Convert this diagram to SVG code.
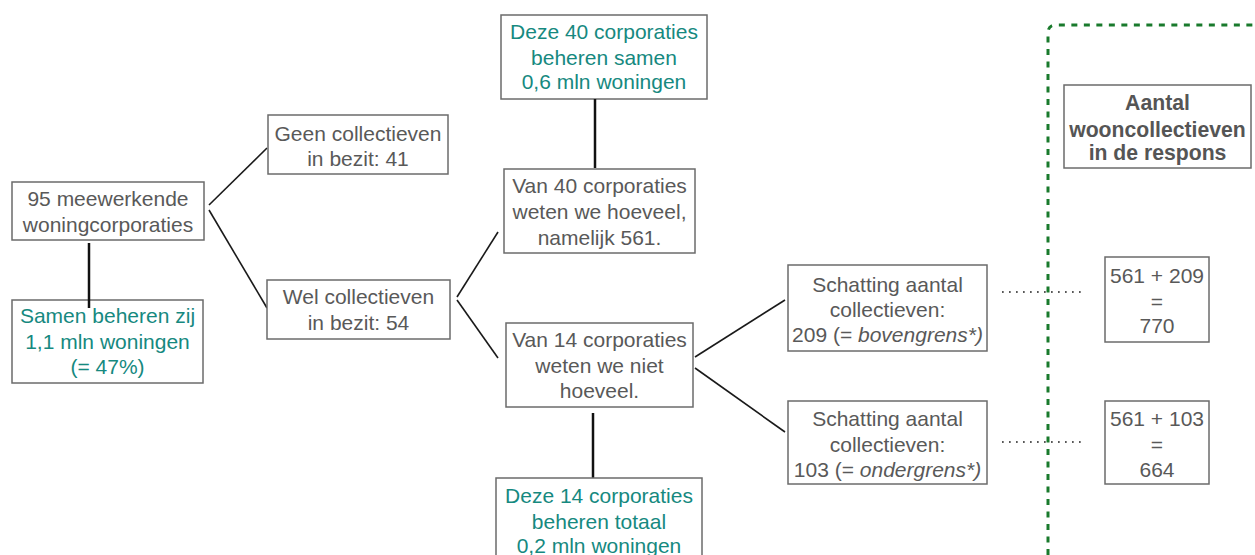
<svg xmlns="http://www.w3.org/2000/svg" width="1255" height="555" viewBox="0 0 1255 555">
<style>
.box{fill:#fff;stroke:#6b6b6b;stroke-width:1.5}
text{font-family:"Liberation Sans",Arial,sans-serif;font-size:21px;text-anchor:middle;fill:#595959}
.teal{fill:#16897f}
.bold{font-weight:bold;font-size:21.2px;fill:#555}
.c{stroke:#1a1a1a;stroke-width:1.6;fill:none}
.v{stroke:#111;stroke-width:2.5;fill:none}
.dot{stroke:#222;stroke-width:1.7;stroke-dasharray:1.7 5.3;fill:none}
.grn{stroke:#197a2c;stroke-width:3;stroke-dasharray:6 6.5;fill:none}
</style>
<rect width="1255" height="555" fill="#fff"/>
<g id="connectors">
<line class="c" x1="209" y1="205" x2="267" y2="148"/>
<line class="c" x1="209" y1="210" x2="267" y2="308"/>
<line class="c" x1="457" y1="297" x2="498" y2="232"/>
<line class="c" x1="457" y1="300" x2="498" y2="358"/>
<line class="c" x1="695" y1="357" x2="785" y2="300"/>
<line class="c" x1="695" y1="368" x2="785" y2="432"/>
<line class="dot" x1="1002" y1="292" x2="1084" y2="292"/>
<line class="dot" x1="1002" y1="442" x2="1084" y2="442"/>
</g>
<path id="border" class="grn" d="M1048,555 V33 Q1048,25 1056,25 H1255"/>
<g id="n-95">
<rect class="box" x="12" y="182" width="192" height="58"/>
<text x="108" y="205.5">95 meewerkende</text>
<text x="108" y="231.5">woningcorporaties</text>
</g>
<g id="n-samen">
<rect class="box" x="12" y="300" width="191" height="83"/>
<text class="teal" x="107.5" y="323">Samen beheren zij</text>
<text class="teal" x="107.5" y="348.5">1,1 mln woningen</text>
<text class="teal" x="107.5" y="374">(= 47%)</text>
</g>
<line class="v" x1="89" y1="243" x2="89" y2="308"/>
<g id="n-geen">
<rect class="box" x="268" y="115" width="180" height="59"/>
<text x="358" y="141">Geen collectieven</text>
<text x="358" y="165.5">in bezit: 41</text>
</g>
<g id="n-wel">
<rect class="box" x="267" y="280" width="183" height="59"/>
<text x="358.5" y="304">Wel collectieven</text>
<text x="358.5" y="330">in bezit: 54</text>
</g>
<g id="n-deze40">
<rect class="box" x="501" y="15" width="206" height="84"/>
<text class="teal" x="604" y="39.3">Deze 40 corporaties</text>
<text class="teal" x="604" y="65">beheren samen</text>
<text class="teal" x="604" y="89.3">0,6 mln woningen</text>
</g>
<line class="v" x1="595" y1="99" x2="595" y2="168"/>
<g id="n-van40">
<rect class="box" x="504" y="169" width="191" height="84"/>
<text x="599.5" y="193.3">Van 40 corporaties</text>
<text x="599.5" y="219">weten we hoeveel,</text>
<text x="599.5" y="245">namelijk 561.</text>
</g>
<g id="n-van14">
<rect class="box" x="506" y="323" width="187" height="84"/>
<text x="599.5" y="346.7">Van 14 corporaties</text>
<text x="599.5" y="373">weten we niet</text>
<text x="599.5" y="398">hoeveel.</text>
</g>
<line class="v" x1="593" y1="413" x2="593" y2="478"/>
<g id="n-deze14">
<rect class="box" x="496" y="478" width="206" height="90"/>
<text class="teal" x="599" y="502.7">Deze 14 corporaties</text>
<text class="teal" x="599" y="529.3">beheren totaal</text>
<text class="teal" x="599" y="553.3">0,2 mln woningen</text>
</g>
<g id="n-schat1">
<rect class="box" x="788" y="265" width="199" height="86"/>
<text x="887.5" y="291.7">Schatting aantal</text>
<text x="887.5" y="316.7">collectieven:</text>
<text x="887.5" y="342.3">209 (= <tspan font-style="italic">bovengrens*)</tspan></text>
</g>
<g id="n-schat2">
<rect class="box" x="788" y="401" width="199" height="83"/>
<text x="887.5" y="425.7">Schatting aantal</text>
<text x="887.5" y="451.7">collectieven:</text>
<text x="887.5" y="476.7">103 (= <tspan font-style="italic">ondergrens*)</tspan></text>
</g>
<g id="n-aantal">
<rect class="box" x="1064" y="85" width="187" height="83"/>
<text class="bold" x="1157.5" y="110">Aantal</text>
<text class="bold" x="1157.5" y="136.7">wooncollectieven</text>
<text class="bold" x="1157.5" y="160">in de respons</text>
</g>
<g id="n-770">
<rect class="box" x="1105" y="257" width="104" height="85"/>
<text x="1157" y="283.3">561 + 209</text>
<text x="1157" y="309">=</text>
<text x="1157" y="333.3">770</text>
</g>
<g id="n-664">
<rect class="box" x="1105" y="401" width="104" height="83"/>
<text x="1157" y="425.7">561 + 103</text>
<text x="1157" y="452">=</text>
<text x="1157" y="476.7">664</text>
</g>
</svg>
